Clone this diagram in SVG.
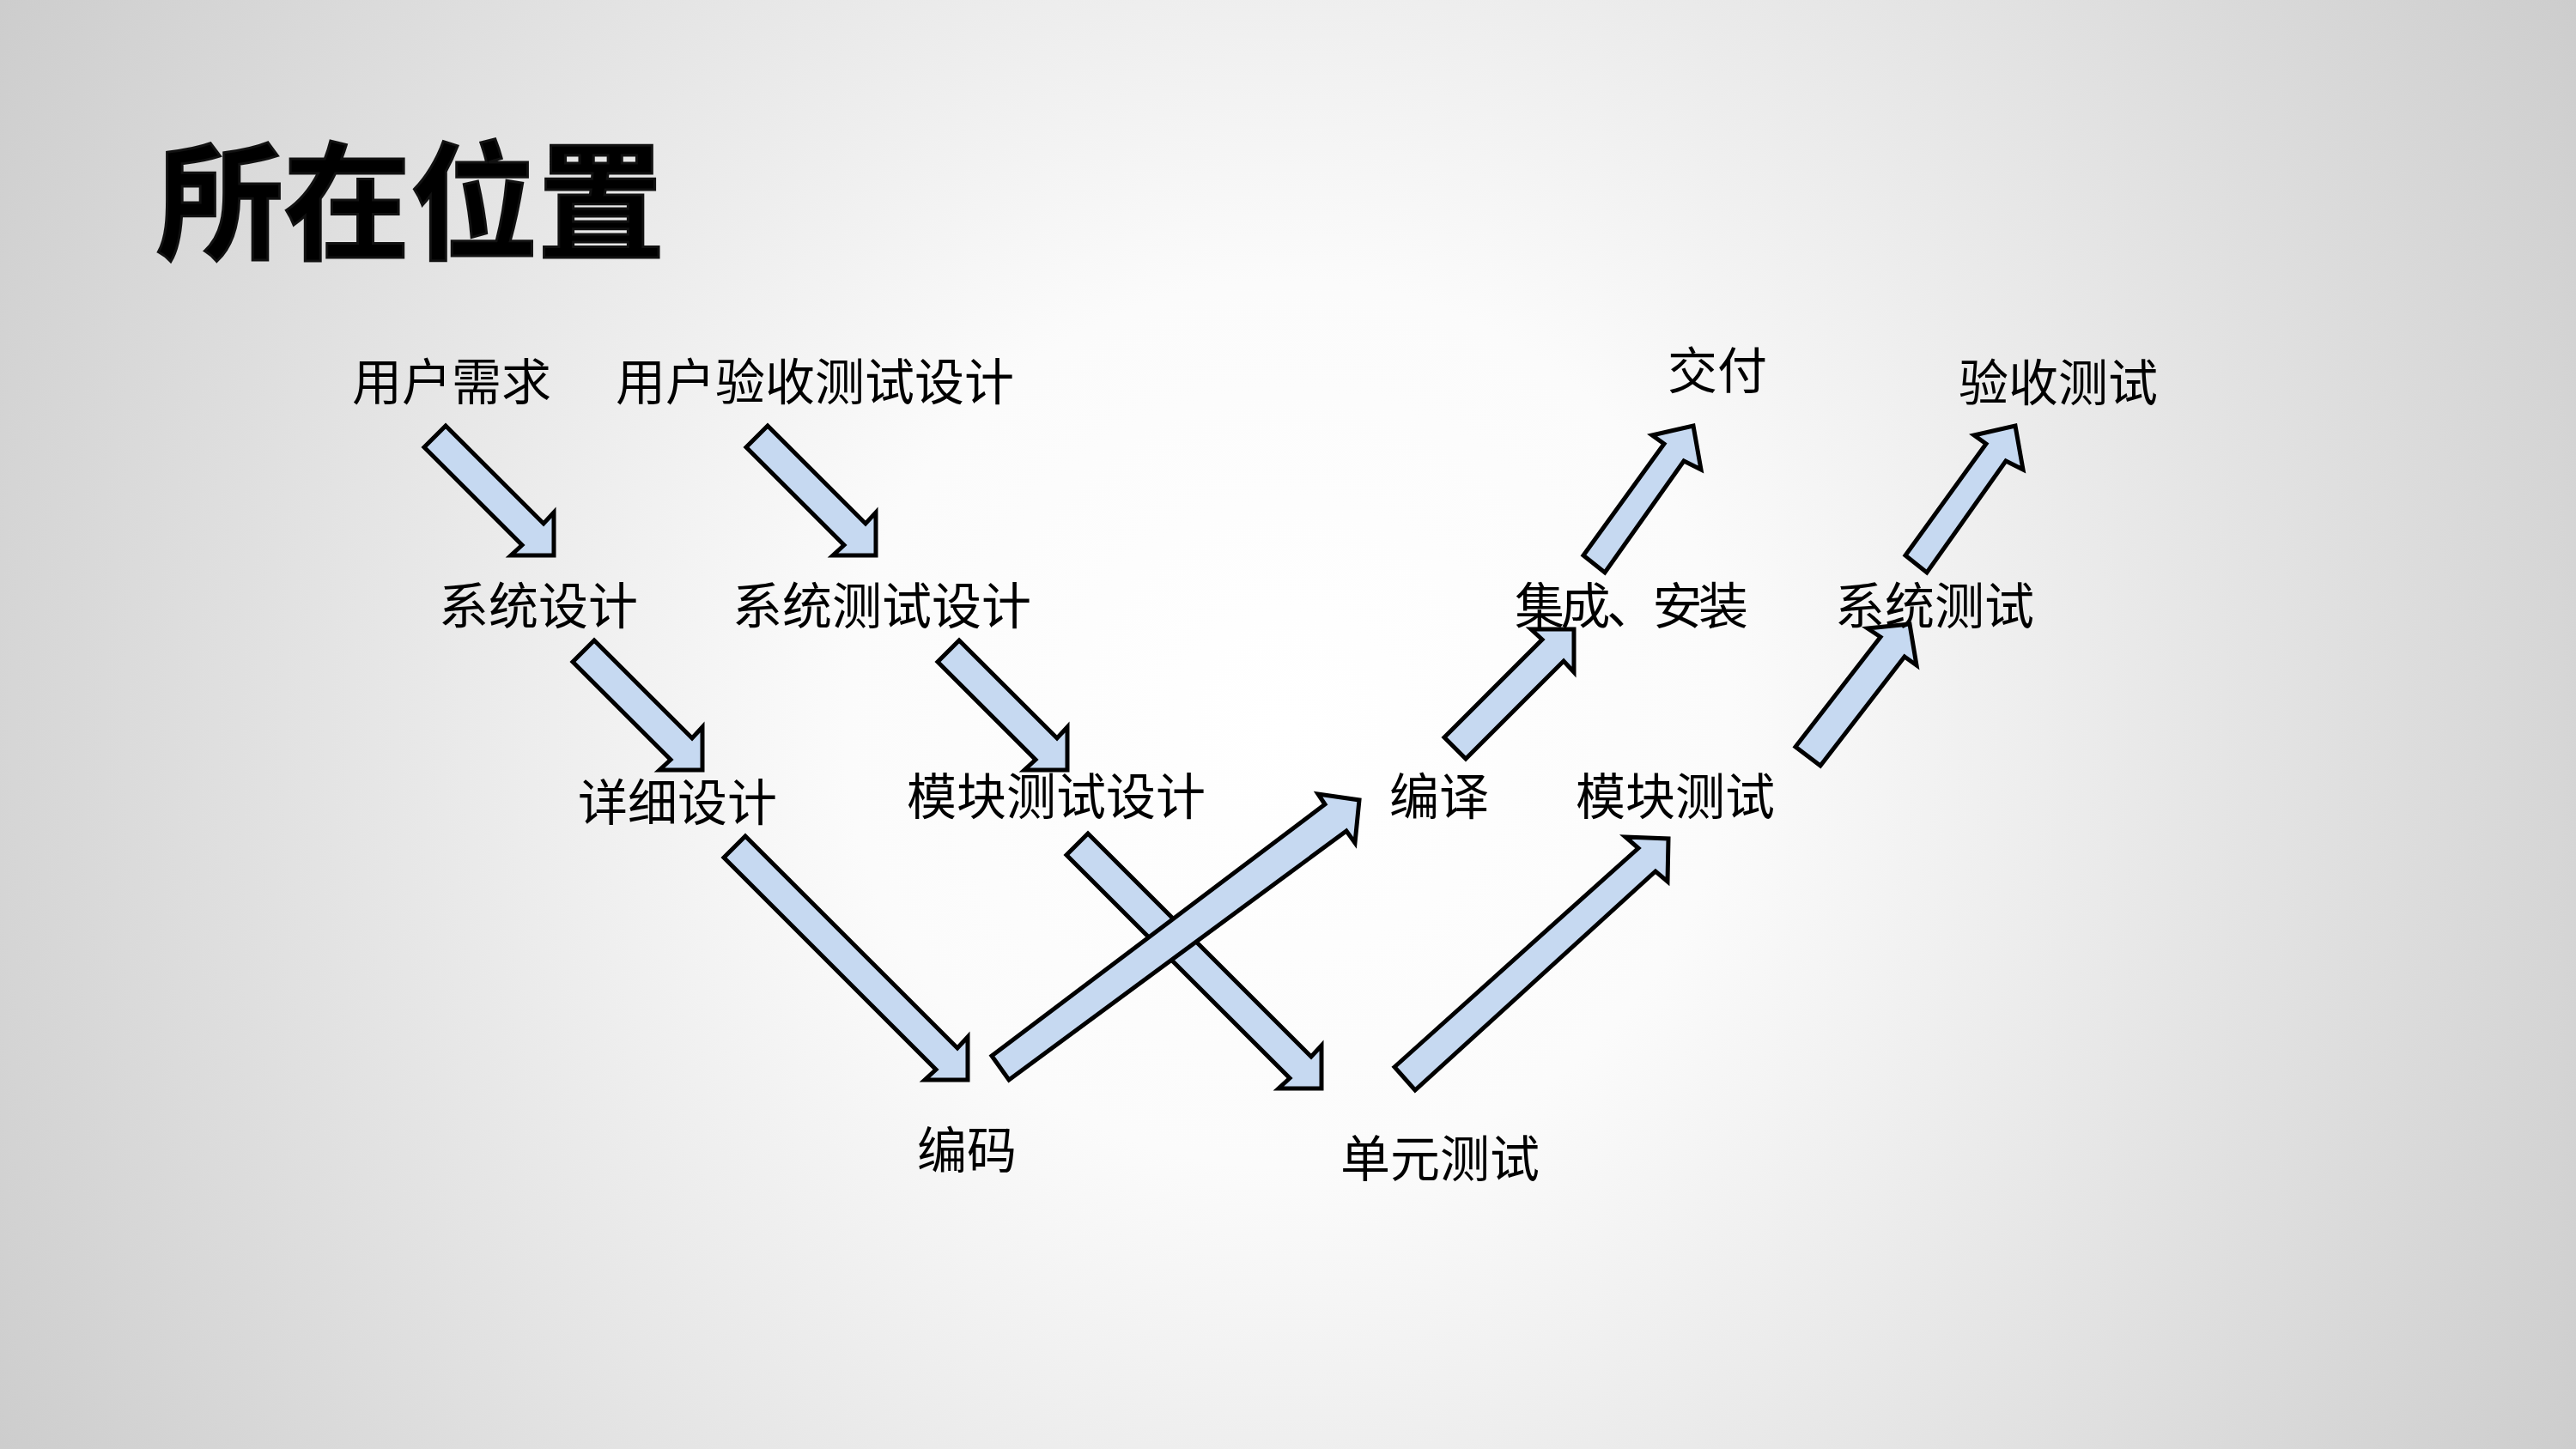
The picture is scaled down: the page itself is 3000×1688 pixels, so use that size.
<svg xmlns="http://www.w3.org/2000/svg" width="3000" height="1688" viewBox="0 0 3000 1688">
<defs>
<radialGradient id="bg" gradientUnits="userSpaceOnUse" cx="1500" cy="844" r="1720">
<stop offset="0" stop-color="#ffffff"/>
<stop offset="0.3" stop-color="#fbfbfb"/>
<stop offset="1" stop-color="#cdcdcd"/>
</radialGradient>
<style>
.lbl{font-family:"Noto Sans CJK SC","Noto Sans",sans-serif;font-size:58px;fill:#000}
.title{font-family:"Noto Sans CJK SC","Noto Sans",sans-serif;font-size:148px;font-weight:bold;fill:#000;stroke:#111;stroke-width:3}
.arr{fill:#c6d9f1;stroke:#000;stroke-width:5;stroke-linejoin:miter}
</style>
</defs>
<rect x="0" y="0" width="3000" height="1688" fill="url(#bg)"/>
<g id="title"><text class="title" x="182" y="290">所在位置</text></g>

<g id="connectors">
<polygon class="arr" points="519,496 633,610 645,597 645,647 595,647 608,635 494,521"/>
<polygon class="arr" points="894,496 1008,610 1020,597 1020,647 970,647 983,635 869,521"/>
<polygon class="arr" points="692,746 806,860 818,847 818,897 768,897 781,885 667,771"/>
<polygon class="arr" points="1117,746 1231,860 1243,847 1243,897 1193,897 1206,885 1092,771"/>
<polygon class="arr" points="868,974 1115,1221 1127,1208 1127,1258 1077,1258 1090,1246 843,999"/>
<polygon class="arr" points="1267,971 1527,1231 1539,1218 1539,1268 1489,1268 1502,1256 1242,996"/>
<polygon class="arr" points="1155,1230 1543,937 1535,925 1583,932 1578,982 1568,968 1175,1258"/>
<polygon class="arr" points="1624,1243 1908,988 1893,975 1943,977 1942,1027 1928,1015 1648,1270"/>
<polygon class="arr" points="1682,859 1796,745 1783,733 1833,733 1833,783 1821,770 1707,884"/>
<polygon class="arr" points="2091,870 2190,742 2175,732 2224,727 2232,775 2218,765 2120,892"/>
<polygon class="arr" points="1844,647 1938,517 1924,507 1972,496 1981,547 1961,537 1869,667"/>
<polygon class="arr" points="2219,647 2313,517 2299,507 2347,496 2356,547 2336,537 2244,667"/>
</g>

<g id="n-yonghuxuqiu"><text class="lbl" x="410" y="466">用户需求</text></g>
<g id="n-yanshouceshisheji"><text class="lbl" x="717" y="466">用户验收测试设计</text></g>
<g id="n-jiaofu"><text class="lbl" x="1942" y="453">交付</text></g>
<g id="n-yanshouceshi"><text class="lbl" x="2281" y="467">验收测试</text></g>
<g id="n-xitongsheji"><text class="lbl" x="511" y="727">系统设计</text></g>
<g id="n-xitongceshisheji"><text class="lbl" x="853" y="727">系统测试设计</text></g>
<g id="n-jicheng"><text class="lbl" x="1764" y="727" textLength="272" lengthAdjust="spacing">集成、安装</text></g>
<g id="n-xitongceshi"><text class="lbl" x="2137" y="727">系统测试</text></g>
<g id="n-xiangxisheji"><text class="lbl" x="673" y="956">详细设计</text></g>
<g id="n-mokuaiceshisheji"><text class="lbl" x="1056" y="949">模块测试设计</text></g>
<g id="n-bianyi"><text class="lbl" x="1618" y="949">编译</text></g>
<g id="n-mokuaiceshi"><text class="lbl" x="1835" y="949">模块测试</text></g>
<g id="n-bianma"><text class="lbl" x="1068" y="1361">编码</text></g>
<g id="n-danyuanceshi"><text class="lbl" x="1561" y="1371">单元测试</text></g>
</svg>
